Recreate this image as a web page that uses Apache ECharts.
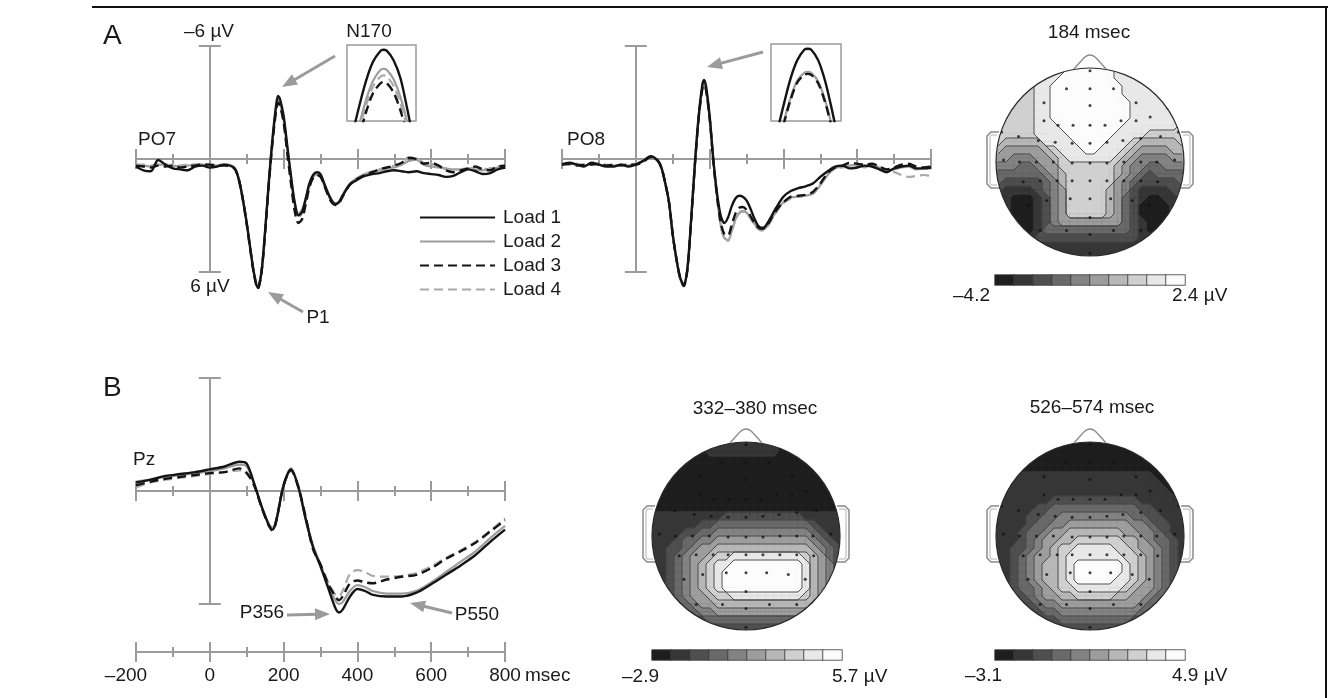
<!DOCTYPE html>
<html><head><meta charset="utf-8">
<script src="https://cdn.jsdelivr.net/npm/echarts@6/dist/echarts.min.js"></script>
<style>html,body{margin:0;padding:0;background:#fff}#c{width:1328px;height:698px}</style>
</head><body><div id="c"></div>
<script>
// ---------------- DATA ----------------
const erpTimes = [-200,-180,-160,-140,-120,-100,-80,-60,-40,-20,0,20,40,60,70,80,90,100,110,120,130,140,150,160,170,180,185,190,200,210,220,230,240,250,260,270,280,290,300,310,320,330,340,350,360,380,400,420,440,460,480,500,520,540,560,580,600,620,640,660,680,700,720,740,760,780,800];

const po7Load1 = [0.4,0.6,0.65,0.05,0.3,0.5,0.55,0.6,0.4,0.35, 0.45,0.4,0.3,0.4, 0.6,1.2,2.2,3.4,4.8,6.1,6.85,6.0,3.8,1.2,-1.1,-2.9, -3.35,-3.2,
  -2.3,-0.7,0.9,2.3,3.0,2.8,2.1,1.3,0.85,0.7,0.8,1.3,1.8,2.2,2.4,2.3,1.95,
  1.35,1.1,0.9,0.8,0.75,0.65,0.6,0.65,0.7,0.65,0.75,0.8,0.85,0.95,0.9,0.7,0.55,0.65,0.8,0.75,0.55,0.45];
const po7Load2 = [0.3,0.35,0.4,0.3,0.3,0.35,0.4,0.35,0.3,0.3, 0.35,0.35,0.3,0.35, 0.55,1.15,2.15,3.35,4.75,6.05,6.8,6.0,3.8,1.25,-1.0,-2.75, -3.15,-3.0,
  -2.1,-0.55,1.0,2.3,2.9,2.7,2.1,1.35,0.95,0.8,0.9,1.3,1.75,2.15,2.35,2.25,1.9,
  1.3,1.0,0.8,0.7,0.6,0.5,0.45,0.3,0.1,0.05,0.3,0.4,0.45,0.5,0.55,0.55,0.5,0.55,0.6,0.5,0.45,0.4];
const po7Load3 = [0.35,0.4,0.45,0.35,0.4,0.35,0.45,0.4,0.35,0.3, 0.3,0.35,0.35,0.4, 0.6,1.2,2.2,3.45,4.85,6.15,6.9,6.05,3.9,1.35,-0.9,-2.6, -3.0,-2.85,
  -1.95,-0.3,1.3,2.75,3.4,3.2,2.4,1.5,1.0,0.85,0.95,1.4,1.9,2.3,2.45,2.35,2.0,
  1.35,1.05,0.85,0.7,0.55,0.45,0.35,0.2,-0.05,0.0,0.25,0.2,0.35,0.6,0.7,0.6,0.5,0.4,0.55,0.6,0.4,0.35];
const po7Load4 = [0.3,0.3,0.35,0.3,0.35,0.3,0.35,0.3,0.3,0.25, 0.3,0.3,0.3,0.35, 0.55,1.15,2.15,3.4,4.8,6.1,6.85,6.0,3.85,1.3,-0.95,-2.7, -3.08,-2.92,
  -2.0,-0.4,1.15,2.5,3.1,2.9,2.2,1.4,0.95,0.85,0.95,1.4,1.85,2.25,2.4,2.3,1.95,
  1.3,1.0,0.8,0.65,0.55,0.45,0.35,0.2,-0.1,-0.05,0.2,0.25,0.4,0.55,0.6,0.55,0.5,0.45,0.5,0.55,0.4,0.35];

const po8Load1 = [0.3,0.2,0.3,0.4,0.2,0.3,0.4,0.4,0.3,0.4, 0.3,0.1,-0.15,0.1, 0.5,1.3,2.3,4.0,5.3,6.3,6.7,5.8,3.2,0.3,-2.2,-3.9, -4.2,-3.9,
  -2.3,0.0,1.8,3.0,3.4,3.1,2.5,2.1,1.95,2.0,2.2,2.6,3.1,3.5,3.65,3.6,3.3,
  2.6,2.0,1.7,1.55,1.45,1.3,0.95,0.65,0.4,0.35,0.5,0.45,0.35,0.4,0.55,0.7,0.5,0.4,0.35,0.5,0.5,0.45];
const po8Load2 = [0.25,0.25,0.3,0.35,0.25,0.3,0.35,0.35,0.3,0.35, 0.25,0.1,-0.1,0.1, 0.5,1.3,2.3,4.0,5.3,6.3,6.7,5.8,3.25,0.35,-2.1,-3.7, -3.96,-3.7,
  -2.2,0.1,2.0,3.5,4.2,4.3,3.8,3.2,2.85,2.75,2.85,3.1,3.4,3.65,3.75,3.7,3.45,
  2.8,2.3,2.05,2.0,1.95,1.85,1.4,0.85,0.5,0.4,0.35,0.3,0.45,0.3,0.45,0.6,0.55,0.45,0.4,0.55,0.5,0.5];
const po8Load3 = [0.3,0.25,0.35,0.3,0.3,0.25,0.35,0.3,0.35,0.3, 0.3,0.15,-0.1,0.1, 0.5,1.3,2.3,4.0,5.3,6.3,6.75,5.85,3.25,0.35,-2.1,-3.7, -3.94,-3.7,
  -2.2,0.1,1.95,3.35,4.0,4.05,3.5,2.9,2.6,2.55,2.7,3.0,3.35,3.6,3.7,3.65,3.4,
  2.75,2.3,2.0,1.95,1.9,1.75,1.3,0.75,0.45,0.35,0.2,0.25,0.3,0.25,0.4,0.55,0.45,0.3,0.25,0.4,0.45,0.4];
const po8Load4 = [0.3,0.3,0.25,0.35,0.3,0.3,0.3,0.35,0.3,0.3, 0.25,0.1,-0.1,0.1, 0.5,1.3,2.3,4.0,5.3,6.3,6.7,5.8,3.25,0.35,-2.1,-3.7, -3.95,-3.7,
  -2.2,0.1,2.0,3.5,4.25,4.35,3.85,3.25,2.9,2.8,2.9,3.15,3.45,3.7,3.8,3.75,3.5,
  2.85,2.35,2.1,2.0,1.95,1.8,1.35,0.8,0.5,0.45,0.4,0.3,0.35,0.25,0.4,0.65,0.7,0.85,0.95,0.9,0.85,0.9];

const pzTimes = [-200,-160,-120,-80,-40,0,40,80,100,120,140,160,170,180,200,220,240,260,280,300,320,340,350,360,380,400,420,440,480,520,560,600,640,680,720,760,800];
const pzLoad1 = [-0.45,-0.6,-0.8,-0.9,-1.0,-1.15,-1.3,-1.55,-1.45,-0.4,0.8,1.8,2.05,1.6,-0.3,-1.15,-0.2,1.5,3.0,4.0,5.1,6.2,6.45,6.3,5.6,5.2,5.3,5.5,5.6,5.6,5.4,4.95,4.45,3.95,3.4,2.7,2.05];
const pzLoad2 = [-0.5,-0.6,-0.75,-0.85,-0.95,-1.05,-1.2,-1.4,-1.3,-0.4,0.8,1.75,1.95,1.5,-0.3,-1.2,-0.25,1.5,2.9,3.9,5.0,5.8,6.0,5.9,5.3,5.0,5.1,5.3,5.45,5.45,5.3,4.85,4.3,3.75,3.2,2.5,1.85];
const pzLoad3 = [-0.3,-0.5,-0.65,-0.75,-0.85,-0.95,-1.0,-1.2,-0.95,-0.3,0.85,1.85,2.1,1.6,-0.3,-1.1,-0.2,1.4,3.1,3.9,4.9,5.6,5.8,5.6,4.9,4.75,4.85,4.9,4.7,4.55,4.45,4.1,3.6,3.2,2.75,2.15,1.55];
const pzLoad4 = [-0.2,-0.45,-0.6,-0.7,-0.8,-0.9,-1.0,-1.1,-1.0,-0.3,0.8,1.8,2.0,1.55,-0.3,-1.15,-0.25,1.4,3.0,3.9,4.8,5.5,5.6,5.3,4.4,4.2,4.3,4.5,4.55,4.5,4.35,4.0,3.55,3.15,2.7,2.1,1.45];

// N170 peak insets
const insetTimes = [168,172,176,180,184,186,188,192,196,200,204];
const po7InsetLoad1 = [-2.45,-2.75,-3.02,-3.22,-3.33,-3.35,-3.34,-3.24,-3.05,-2.72,-2.35];
const po7InsetLoad2 = [-2.25,-2.55,-2.82,-3.02,-3.13,-3.15,-3.14,-3.04,-2.85,-2.58,-2.25];
const po7InsetLoad3 = [-2.1,-2.42,-2.69,-2.89,-2.99,-3.01,-3.0,-2.9,-2.71,-2.45,-2.1];
const po7InsetLoad4 = [-2.2,-2.5,-2.76,-2.96,-3.06,-3.08,-3.07,-2.97,-2.78,-2.52,-2.2];
const po8InsetLoad1 = [-3.3,-3.6,-3.88,-4.08,-4.19,-4.2,-4.19,-4.08,-3.86,-3.55,-3.2];
const po8InsetLoad2 = [-3.15,-3.42,-3.68,-3.87,-3.95,-3.96,-3.95,-3.86,-3.66,-3.38,-3.05];
const po8InsetLoad3 = [-3.13,-3.4,-3.66,-3.85,-3.93,-3.94,-3.93,-3.84,-3.64,-3.36,-3.03];
const po8InsetLoad4 = [-3.14,-3.41,-3.67,-3.86,-3.94,-3.95,-3.94,-3.85,-3.65,-3.37,-3.04];

const timeTickLabels = [-200,0,200,400,600,800];
const seriesNames = ['Load 1','Load 2','Load 3','Load 4'];

// Topographic maps: contour level (0 = most negative ... 9 = most positive) read per cell
const topoA = [
"777777888999999888888888","777778889999999888888888","777778899999999988888888","777778899999999988888888",
"777778899999999998888888","777778899999999998888888","777778899999999998888888","777778889999999988888887",
"777778888999999888877777","766666888899998887666667","655555678889988876555566","554445567888888765444455",
"444334557777777654433444","333333456777777654323333","322222346777777543222223","211112345777776542111122",
"210001245777776532100112","110001245777776532000012","110001245777776532000012","210001245555555532100112",
"211001333333333332100112","211112222222222222111122","111111111111111111111111","111111111111111111111111"];
const topoB1 = [
"000000011111111100000000","000000011111111100000000","000000000000000000000000","000000000000000000000000",
"000000000000000000000000","000000000000000000000000","000000000000000000000000","000000000000000000000000",
"000000000000000000000000","111111111222222222211111","111111223333333333332111","111122334444444444443211",
"111233445555555555554321","112234556666666666665432","112345567788888888876532","112345678899999999986542",
"112345678999999999986542","112345678999999999986542","112345678999999999986542","112345567788888888876532",
"111234556666666666665431","111223445555555555554321","111112233333333333333211","111111122222222222221111"];
const topoB2 = [
"000000000000000000000000","000000000000000000000000","000000000000000000000000","000000000000000000000000",
"000111111111111111110000","001111111111111111111000","011111111111111111111100","111111122222222222111110",
"111112233333333333221111","111122334444444443322111","111123344555555554432211","111233455666666655443211",
"111234556677777766543321","112234567788888776554321","112345567888888877654321","112345667899999987654321",
"112345667899999987654321","112345667899999887654321","112334567788888876554321","111234556677777665543221",
"111223445555555555433211","111122334444444444332111","111111223333333332221111","111111112222222221111111"];
const levels = [0,1,2,3,4,5,6,7,8,9];
const levelColors = ['#1e1e1e','#363636','#4f4f4f','#696969','#838383','#9d9d9d','#b7b7b7','#d0d0d0','#e8e8e8','#fcfcfc'];
const topoTitles = ['184 msec','332–380 msec','526–574 msec'];
const scaleLabels = [['–4.2','2.4 µV'],['–2.9','5.7 µV'],['–3.1','4.9 µV']];
// electrode sites (head-normalised, x to the right, y downwards)
const electrodeX = [0,-0.25,0,0.25,-0.49,0,0.49,-0.84,0.83,-0.49,-0.34,-0.18,0,0.16,0.33,0.49,0.64,-0.94,-0.76,-0.55,-0.37,-0.19,0,0.18,0.35,0.54,0.75,0.94,
  -0.92,-0.75,-0.57,-0.39,-0.19,0,0.18,0.36,0.54,0.71,0.9,-0.71,-0.53,-0.35,-0.19,0,0.18,0.36,0.54,0.72,-0.66,-0.46,-0.21,0,0.22,0.45,0.63,0,-0.53,-0.25,0,0.25,0.54,0];
const electrodeY = [-0.97,-0.78,-0.78,-0.78,-0.63,-0.6,-0.63,-0.57,-0.57,-0.44,-0.39,-0.39,-0.39,-0.39,-0.44,-0.44,-0.48,-0.32,-0.27,-0.23,-0.21,-0.2,-0.2,-0.21,-0.23,-0.25,-0.27,-0.32,
  -0.02,0,0,0,0.01,0.01,0.01,0,0,0,-0.02,0.21,0.2,0.2,0.2,0.2,0.2,0.2,0.2,0.21,0.46,0.41,0.39,0.39,0.39,0.41,0.46,0.59,0.73,0.73,0.77,0.73,0.73,0.97];

// ---------------- BUILD ----------------
const FONT = '"Liberation Sans", Arial, Helvetica, sans-serif';
const AX = '#9b9b9b';
const TXT = '#1a1a1a';
const loadStyles = {
  'Load 1': {color:'#141414', width:2.4, type:'solid'},
  'Load 2': {color:'#9c9c9c', width:2.2, type:'solid'},
  'Load 3': {color:'#141414', width:2.4, type:[9,5]},
  'Load 4': {color:'#a9a9a9', width:2.2, type:[9,5]}
};
const drawOrder = ['Load 2','Load 4','Load 3','Load 1'];
const grids = [], xAxes = [], yAxes = [], series = [], G = [];

function addGrid(g){ grids.push(g); return grids.length - 1; }

function erpAxes(gi, inside){
  xAxes.push({gridIndex:gi, type:'value', min:-200, max:800, interval:200,
    axisLine:{show:true, onZero:true, lineStyle:{color:AX, width:2}},
    axisTick:{show:true, inside:inside, length:10, lineStyle:{color:AX, width:2}},
    minorTick:{show:true, splitNumber:2, length:5, lineStyle:{color:AX, width:2}},
    axisLabel:{show:false}, splitLine:{show:false}, minorSplitLine:{show:false}});
  yAxes.push({gridIndex:gi, type:'value', min:-6, max:6, interval:6, inverse:true,
    axisLine:{show:true, onZero:true, lineStyle:{color:AX, width:2}},
    axisTick:{show:true, inside:inside, length:11, lineStyle:{color:AX, width:2}},
    axisLabel:{show:false}, splitLine:{show:false}});
}

function lineSeries(gi, t, dmap, clip){
  drawOrder.forEach(name => {
    const st = loadStyles[name];
    series.push({type:'line', name, xAxisIndex:gi, yAxisIndex:gi,
      data: t.map((x,i)=>[x, dmap[name][i]]),
      symbol:'none', showSymbol:false, smooth:0.3, clip:clip, silent:true,
      lineStyle:{color:st.color, width:st.width, type:st.type}, itemStyle:{color:st.color},
      emphasis:{disabled:true}});
  });
}

function erpPanel(left, top, t, dmap){
  const g1 = addGrid({left, top, width:369, height:226});
  erpAxes(g1, false);
  lineSeries(g1, t, dmap, false);
  const g2 = addGrid({left, top, width:369, height:226});
  erpAxes(g2, true);
}

function inset(left, top, w, h, ymin, ymax, dmap){
  const gi = addGrid({left, top, width:w, height:h, show:true, borderColor:'#9b9b9b', borderWidth:1.5, backgroundColor:'#fff'});
  xAxes.push({gridIndex:gi, type:'value', min:165, max:205, show:false});
  yAxes.push({gridIndex:gi, type:'value', min:ymin, max:ymax, inverse:true, show:false});
  lineSeries(gi, insetTimes, dmap, true);
}

erpPanel(136, 46, erpTimes, {'Load 1':po7Load1,'Load 2':po7Load2,'Load 3':po7Load3,'Load 4':po7Load4});
erpPanel(562, 46, erpTimes, {'Load 1':po8Load1,'Load 2':po8Load2,'Load 3':po8Load3,'Load 4':po8Load4});
erpPanel(136, 378, pzTimes, {'Load 1':pzLoad1,'Load 2':pzLoad2,'Load 3':pzLoad3,'Load 4':pzLoad4});
inset(347, 45, 69, 76, -3.4, -2.6, {'Load 1':po7InsetLoad1,'Load 2':po7InsetLoad2,'Load 3':po7InsetLoad3,'Load 4':po7InsetLoad4});
inset(771, 44, 70, 77, -4.25, -3.45, {'Load 1':po8InsetLoad1,'Load 2':po8InsetLoad2,'Load 3':po8InsetLoad3,'Load 4':po8InsetLoad4});

// separate time axis under Pz
[false, true].forEach(inside => {
  const gi = addGrid({left:136, top:642, width:369, height:10});
  xAxes.push({gridIndex:gi, type:'value', min:-200, max:800, interval:200, position:'bottom',
    axisLine:{show:true, onZero:false, lineStyle:{color:AX, width:2}},
    axisTick:{show:true, inside:inside, length:10, lineStyle:{color:AX, width:2}},
    minorTick:{show:true, splitNumber:2, length:5, lineStyle:{color:AX, width:2}},
    splitLine:{show:false}, minorSplitLine:{show:false},
    axisLabel:{show:!inside, margin:14, fontSize:19, fontFamily:FONT, color:TXT,
      rich:{neg:{fontSize:19, fontFamily:FONT, color:TXT, padding:[0,20,0,0]}},
      formatter: v => timeTickLabels.includes(v) ? (v < 0 ? '{neg|–' + Math.abs(v) + '}' : String(v)) : ''}});
  yAxes.push({gridIndex:gi, type:'value', min:0, max:1, show:false});
});

// --- contour rendering of the level grids (marching squares between cell centres) ---
function squaresOf(rows){
  const out = [];
  for (let j = 0; j < rows.length - 1; j++)
    for (let i = 0; i < rows[j].length - 1; i++)
      out.push([i, j, +rows[j][i], +rows[j][i+1], +rows[j+1][i+1], +rows[j+1][i]]);
  return out;
}
function squareGeom(api){
  const i = api.value(0), j = api.value(1);
  const v = [api.value(2), api.value(3), api.value(4), api.value(5)];
  const a = api.coord([i, j]), b = api.coord([i+1, j+1]);
  const x0 = a[0], y0 = a[1], x1 = b[0], y1 = b[1];
  const pts = [[x0,y0],[x1,y0],[x1,y1],[x0,y1]];
  const mids = [[(x0+x1)/2,y0],[x1,(y0+y1)/2],[(x0+x1)/2,y1],[x0,(y0+y1)/2]];
  return {v, pts, mids};
}
function fillRender(params, api){
  const {v, pts, mids} = squareGeom(api);
  const lo = Math.min(...v), hi = Math.max(...v);
  const children = [{type:'polygon', shape:{points:pts}, style:{fill:levelColors[lo], stroke:levelColors[lo], lineWidth:0.7}}];
  for (let L = lo + 1; L <= hi; L++){
    const poly = [];
    for (let k = 0; k < 4; k++){
      const inA = v[k] >= L, inB = v[(k+1)%4] >= L;
      if (inA) poly.push(pts[k]);
      if (inA !== inB) poly.push(mids[k]);
    }
    children.push({type:'polygon', shape:{points:poly}, style:{fill:levelColors[L], stroke:levelColors[L], lineWidth:0.7}});
  }
  return {type:'group', children};
}
function lineRender(params, api){
  const {v, mids} = squareGeom(api);
  const lo = Math.min(...v), hi = Math.max(...v);
  const children = [];
  for (let L = lo + 1; L <= hi; L++){
    const tr = [];
    for (let k = 0; k < 4; k++){
      if ((v[k] >= L) !== (v[(k+1)%4] >= L)) tr.push(mids[k]);
    }
    for (let s = 0; s + 1 < tr.length; s += 2)
      children.push({type:'line', shape:{x1:tr[s][0], y1:tr[s][1], x2:tr[s+1][0], y2:tr[s+1][1]},
        style:{stroke:'#3c3c3c', lineWidth:0.9}});
  }
  return {type:'group', children};
}

// topographic maps
const heatIdx = [];
const topoLayout = [
  {rows:topoA, cx:1090, cy:162, cbLeft:995, cbTop:275, tx:1089, ty:33, loX:953, hiX:1172, ly:296},
  {rows:topoB1, cx:746, cy:536, cbLeft:652, cbTop:650, tx:755, ty:409, loX:622, hiX:832, ly:677},
  {rows:topoB2, cx:1090, cy:536, cbLeft:995, cbTop:650, tx:1092, ty:408, loX:965, hiX:1172, ly:676}
];
const cells = [...Array(24).keys()].map(String);
topoLayout.forEach((m, k) => {
  const gi = addGrid({left:m.cx-96, top:m.cy-96, width:192, height:192});
  xAxes.push({gridIndex:gi, type:'category', data:cells, show:false});
  yAxes.push({gridIndex:gi, type:'category', data:cells, inverse:true, show:false});
  const data = [];
  m.rows.forEach((r, j) => { for (let i = 0; i < r.length; i++) data.push([i, j, +r[i]]); });
  heatIdx.push(series.length);
  series.push({type:'heatmap', xAxisIndex:gi, yAxisIndex:gi, data, silent:true, z:2,
    itemStyle:{borderWidth:0}, emphasis:{disabled:true}});
  const sq = squaresOf(m.rows);
  series.push({type:'custom', xAxisIndex:gi, yAxisIndex:gi, z:3, silent:true, clip:false,
    renderItem:fillRender, data:sq, encode:{x:0, y:1}});
  series.push({type:'custom', xAxisIndex:gi, yAxisIndex:gi, z:4, silent:true, clip:false,
    renderItem:lineRender, data:sq, encode:{x:0, y:1}});
  // electrode sites
  const ge = addGrid({left:m.cx-94, top:m.cy-94, width:188, height:188});
  xAxes.push({gridIndex:ge, type:'value', min:-1, max:1, show:false});
  yAxes.push({gridIndex:ge, type:'value', min:-1, max:1, inverse:true, show:false});
  series.push({type:'scatter', xAxisIndex:ge, yAxisIndex:ge, z:5, silent:true, symbolSize:3,
    itemStyle:{color:'#111'}, data: electrodeX.map((x, i) => [x, electrodeY[i]])});
  // colour scale bar
  const gb = addGrid({left:m.cbLeft, top:m.cbTop, width:190, height:10});
  xAxes.push({gridIndex:gb, type:'category', data:levels.map(String), show:false});
  yAxes.push({gridIndex:gb, type:'category', data:['0'], show:false});
  heatIdx.push(series.length);
  series.push({type:'heatmap', xAxisIndex:gb, yAxisIndex:gb, z:20, silent:true,
    data: levels.map((l, i) => [i, 0, l]),
    itemStyle:{borderColor:'#3a3a3a', borderWidth:0.8}, emphasis:{disabled:true}});
  // head mask + outline
  const cx = m.cx, cy = m.cy;
  G.push({type:'ring', z:10, silent:true, shape:{cx, cy, r:140, r0:94}, style:{fill:'#fff'}});
  G.push({type:'circle', z:12, silent:true, shape:{cx, cy, r:94}, style:{fill:'none', stroke:'#2a2a2a', lineWidth:1.2}});
  G.push({type:'polyline', z:12, silent:true, shape:{points:[[cx-16,cy-93],[cx-5,cy-105],[cx,cy-107],[cx+5,cy-105],[cx+16,cy-93]], smooth:0.2},
    style:{fill:'none', stroke:'#8a8a8a', lineWidth:1.4}});
  [-1, 1].forEach(s => {
    G.push({type:'polyline', z:12, silent:true,
      shape:{points:[[cx+s*91,cy-30],[cx+s*99,cy-30],[cx+s*103,cy-26],[cx+s*103,cy+22],[cx+s*99,cy+26],[cx+s*91,cy+26]]},
      style:{fill:'none', stroke:'#8a8a8a', lineWidth:1.5}});
    G.push({type:'polyline', z:12, silent:true,
      shape:{points:[[cx+s*93,cy-27],[cx+s*99,cy-27],[cx+s*100,cy-25],[cx+s*100,cy+21],[cx+s*99,cy+23],[cx+s*93,cy+23]]},
      style:{fill:'none', stroke:'#b0b0b0', lineWidth:1}});
  });
  G.push(txt(topoTitles[k], m.tx, m.ty, {align:'center'}));
  G.push(txt(scaleLabels[k][0], m.loX, m.ly));
  G.push(txt(scaleLabels[k][1], m.hiX, m.ly));
});

function txt(text, x, y, o){
  o = o || {};
  const al = o.align || 'left';
  return {type:'text', z:30, silent:true, x, y,
    style:{text, font:(o.size||19)+'px '+FONT, fill:o.color||TXT, textAlign:al, align:al, textVerticalAlign:'middle', verticalAlign:'middle'}};
}
function arrow(x1, y1, x2, y2){
  const dx = x2-x1, dy = y2-y1, L = Math.hypot(dx, dy), ux = dx/L, uy = dy/L;
  const hl = 15, hw = 6;
  const bx = x2-ux*hl, by = y2-uy*hl;
  G.push({type:'line', z:30, silent:true, shape:{x1, y1, x2:bx+ux*3, y2:by+uy*3}, style:{stroke:'#9b9b9b', lineWidth:3}});
  G.push({type:'polygon', z:30, silent:true, shape:{points:[[x2,y2],[bx-uy*hw,by+ux*hw],[bx+uy*hw,by-ux*hw]]}, style:{fill:'#9b9b9b'}});
}

// labels and annotations
G.push(txt('A', 103, 36, {size:28}));
G.push(txt('B', 103, 388, {size:28}));
G.push(txt('–6 µV', 209, 32, {align:'center'}));
G.push(txt('6 µV', 210, 287, {align:'center'}));
G.push(txt('PO7', 138, 140));
G.push(txt('PO8', 567, 140));
G.push(txt('Pz', 133, 460));
G.push(txt('N170', 369, 32, {align:'center'}));
G.push(txt('P1', 318, 318, {align:'center'}));
G.push(txt('P356', 262, 613, {align:'center'}));
G.push(txt('P550', 477, 615, {align:'center'}));
G.push(txt('msec', 525, 676));
arrow(335, 56, 282, 87);
arrow(763, 52, 707, 67);
arrow(303, 312, 268, 292);
arrow(287, 615, 330, 614);
arrow(452, 613, 410, 603);
// figure frame
G.push({type:'line', z:30, silent:true, shape:{x1:92, y1:7, x2:1328, y2:7}, style:{stroke:'#111', lineWidth:2}});
G.push({type:'line', z:30, silent:true, shape:{x1:1326, y1:6, x2:1326, y2:698}, style:{stroke:'#111', lineWidth:2}});

const option = {
  animation:false,
  backgroundColor:'#fff',
  grid:grids, xAxis:xAxes, yAxis:yAxes, series,
  visualMap:{type:'piecewise', show:false, dimension:2, seriesIndex:heatIdx,
    pieces: levels.map(l => ({value:l, color:levelColors[l]}))},
  legend:{data:seriesNames, orient:'vertical', left:414, top:203, itemWidth:75, itemHeight:14, itemGap:5,
    selectedMode:false, itemStyle:{opacity:0, color:'rgba(0,0,0,0)', borderWidth:0},
    textStyle:{fontSize:19, fontFamily:FONT, color:TXT, padding:[0,0,0,3]}},
  graphic:{elements:G}
};
const chart = echarts.init(document.getElementById('c'));
chart.setOption(option);
</script>
</body></html>
